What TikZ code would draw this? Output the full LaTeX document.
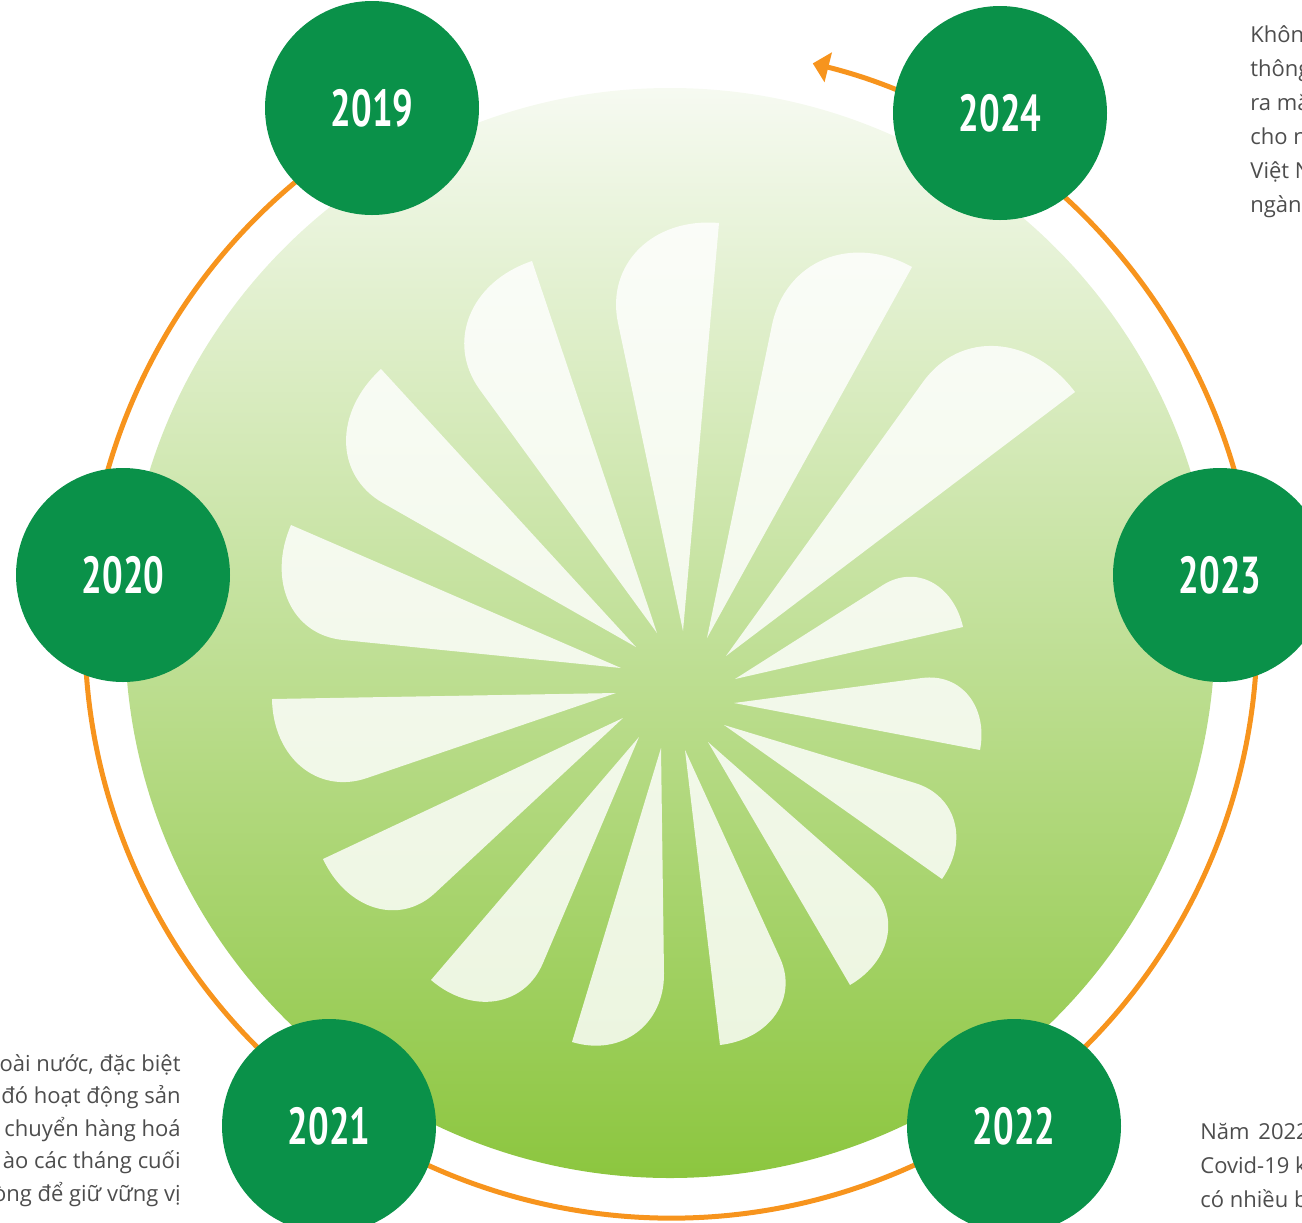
\documentclass[tikz,border=0pt]{standalone}
\usepackage{fontspec}
\setmainfont{Open Sans}
\newfontfamily\yearfont{PT Sans}[FakeStretch=0.70]
\usetikzlibrary{calc,arrows.meta}
\definecolor{ringorange}{HTML}{F7941D}
\definecolor{yeargreen}{HTML}{0A9149}
\definecolor{bgtop}{HTML}{F6FAF1}
\definecolor{bgbottom}{HTML}{8CC63F}
\definecolor{textgray}{HTML}{4D4D4D}
\newcommand\drawpetal[3]{%
  \coordinate (pT) at (#1);
  \coordinate (pS) at (#2);
  \coordinate (pM) at (#3);
  \coordinate (pS2) at ($(pS)!1!90:(pT)$);
  \coordinate (pX) at (intersection of pS--pS2 and pT--pM);
  \fill[petal] (pT) -- (pS) .. controls ($(pS)!0.53!(pX)$) and ($(pM)!0.53!(pX)$) .. (pM) -- cycle;
}
\begin{document}
\begin{tikzpicture}[x=0.5pt,y=-0.5pt,
  yearnode/.style={circle, fill=yeargreen, minimum size=107pt, inner sep=0pt, text=white,
    font={\yearfont\bfseries\fontsize{26pt}{26pt}\selectfont}},
  petal/.style={fill=white, fill opacity=0.82},
  ringline/.style={draw=ringorange, line width=2.5pt, -{Triangle[length=8pt,width=15pt]}},
  infotext/.style={inner sep=0pt, text=textgray}]
\useasboundingbox (0,0) rectangle (1302,1222);
\clip (0,0) rectangle (1302,1222);
% orange cycle arrow
\coordinate (C) at (671,632);
\draw[ringline] (C) ++(115:293pt) coordinate (ringstart)
  arc[start angle=115, end angle=436, radius=293pt] coordinate (ringend);
% gradient disc
\node[circle, minimum size=545pt, inner sep=0pt, top color=bgtop, bottom color=bgbottom] (disc) at (670,633) {};
% flower petals: tip, sharp corner, smooth corner
\drawpetal{683,631}{719,223}{618,323}
\drawpetal{707,638}{912,267}{772,325}
\drawpetal{726,656}{1075,392}{923,382}
\drawpetal{735,679}{963,627}{883,585}
\drawpetal{734,703}{980,750}{922,678}
\drawpetal{724,725}{942,879}{915,783}
\drawpetal{708,742}{850,985}{868,883}
\drawpetal{685,750}{720,1045}{780,958}
\drawpetal{661,748}{572,1042}{664,973}
\drawpetal{639,737}{431,980}{543,963}
\drawpetal{623,718}{323,859}{435,893}
\drawpetal{616,693}{272,699}{367,778}
\drawpetal{621,668}{291,525}{343,640}
\drawpetal{636,647}{381,369}{383,503}
\drawpetal{657,633}{532,261}{480,390}
% year circles
\node[yearnode] (y2019) at (372,108) {2019};
\node[yearnode] (y2024) at (1000,113) {2024};
\node[yearnode] (y2020) at (123,575) {2020};
\node[yearnode] (y2023) at (1220,575) {2023};
\node[yearnode] (y2021) at (329,1126) {2021};
\node[yearnode] (y2022) at (1014,1126) {2022};
% text fragments
\node[infotext, anchor=base west] (txttr) at (1250,42)
  {\fontsize{11pt}{17pt}\selectfont\begin{tabular}[t]{@{}l@{}}Khôn\\thông\\ra mắ\\cho n\\Việt N\\ngàn\end{tabular}};
\node[infotext, anchor=base east] (txtbl) at (181,1071)
  {\fontsize{11pt}{16.3pt}\selectfont\begin{tabular}[t]{@{}r@{}}oài nước, đặc biệt\\đó hoạt động sản\\chuyển hàng hoá\\ào các tháng cuối\\òng để giữ vững vị\end{tabular}};
\node[infotext, anchor=base west] (txtbr) at (1200,1139)
  {\fontsize{11pt}{17.2pt}\selectfont\begin{tabular}[t]{@{}l@{}}Năm\hspace{0.4em}2022\\Covid-19 k\\có nhiều b\end{tabular}};
\end{tikzpicture}
\end{document}
